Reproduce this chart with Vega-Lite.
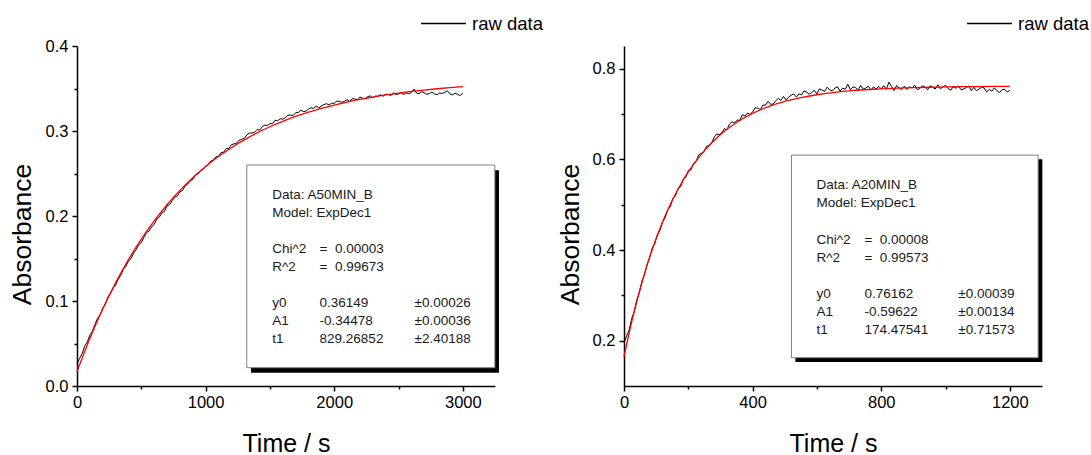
{
  "$schema": "https://vega.github.io/schema/vega-lite/v6.json",
  "background": "white",
  "padding": {"left": 9, "top": 0, "right": 0, "bottom": 0},
  "bounds": "flush",
  "spacing": 129,
  "datasets": {
    "raw50": [
      {"t":0,"a":0.0260},{"t":20,"a":0.0324},{"t":40,"a":0.0381},{"t":60,"a":0.0470},{"t":80,"a":0.0518},{"t":100,"a":0.0598},{"t":120,"a":0.0645},{"t":140,"a":0.0727},{"t":160,"a":0.0797},{"t":180,"a":0.0837},
      {"t":200,"a":0.0917},{"t":220,"a":0.0962},{"t":240,"a":0.1046},{"t":260,"a":0.1086},{"t":280,"a":0.1153},{"t":300,"a":0.1188},{"t":320,"a":0.1256},{"t":340,"a":0.1300},{"t":360,"a":0.1374},{"t":380,"a":0.1407},
      {"t":400,"a":0.1471},{"t":420,"a":0.1498},{"t":440,"a":0.1564},{"t":460,"a":0.1603},{"t":480,"a":0.1663},{"t":500,"a":0.1688},{"t":520,"a":0.1747},{"t":540,"a":0.1804},{"t":560,"a":0.1822},{"t":580,"a":0.1874},
      {"t":600,"a":0.1900},{"t":620,"a":0.1962},{"t":640,"a":0.1987},{"t":660,"a":0.2036},{"t":680,"a":0.2055},{"t":700,"a":0.2119},{"t":720,"a":0.2134},{"t":740,"a":0.2180},{"t":760,"a":0.2223},{"t":780,"a":0.2235},
      {"t":800,"a":0.2286},{"t":820,"a":0.2299},{"t":840,"a":0.2353},{"t":860,"a":0.2374},{"t":880,"a":0.2415},{"t":900,"a":0.2430},{"t":920,"a":0.2482},{"t":940,"a":0.2494},{"t":960,"a":0.2536},{"t":980,"a":0.2545},
      {"t":1000,"a":0.2588},{"t":1020,"a":0.2599},{"t":1040,"a":0.2647},{"t":1060,"a":0.2656},{"t":1080,"a":0.2696},{"t":1100,"a":0.2703},{"t":1120,"a":0.2746},{"t":1140,"a":0.2751},{"t":1160,"a":0.2793},{"t":1180,"a":0.2795},
      {"t":1200,"a":0.2838},{"t":1220,"a":0.2848},{"t":1240,"a":0.2856},{"t":1260,"a":0.2891},{"t":1280,"a":0.2902},{"t":1300,"a":0.2913},{"t":1320,"a":0.2953},{"t":1340,"a":0.2976},{"t":1360,"a":0.2976},{"t":1380,"a":0.2985},
      {"t":1400,"a":0.3016},{"t":1420,"a":0.3011},{"t":1440,"a":0.3051},{"t":1460,"a":0.3069},{"t":1480,"a":0.3065},{"t":1500,"a":0.3086},{"t":1520,"a":0.3086},{"t":1540,"a":0.3127},{"t":1560,"a":0.3121},{"t":1580,"a":0.3144},
      {"t":1600,"a":0.3139},{"t":1620,"a":0.3156},{"t":1640,"a":0.3186},{"t":1660,"a":0.3188},{"t":1680,"a":0.3181},{"t":1700,"a":0.3215},{"t":1720,"a":0.3216},{"t":1740,"a":0.3244},{"t":1760,"a":0.3229},{"t":1780,"a":0.3234},
      {"t":1800,"a":0.3257},{"t":1820,"a":0.3274},{"t":1840,"a":0.3265},{"t":1860,"a":0.3293},{"t":1880,"a":0.3272},{"t":1900,"a":0.3294},{"t":1920,"a":0.3311},{"t":1940,"a":0.3321},{"t":1960,"a":0.3306},{"t":1980,"a":0.3327},
      {"t":2000,"a":0.3325},{"t":2020,"a":0.3352},{"t":2040,"a":0.3348},{"t":2060,"a":0.3337},{"t":2080,"a":0.3350},{"t":2100,"a":0.3369},{"t":2120,"a":0.3348},{"t":2140,"a":0.3382},{"t":2160,"a":0.3376},{"t":2180,"a":0.3370},
      {"t":2200,"a":0.3400},{"t":2220,"a":0.3385},{"t":2240,"a":0.3383},{"t":2260,"a":0.3404},{"t":2280,"a":0.3413},{"t":2300,"a":0.3390},{"t":2320,"a":0.3411},{"t":2340,"a":0.3408},{"t":2360,"a":0.3428},{"t":2380,"a":0.3408},
      {"t":2400,"a":0.3433},{"t":2420,"a":0.3431},{"t":2440,"a":0.3416},{"t":2460,"a":0.3450},{"t":2480,"a":0.3429},{"t":2500,"a":0.3437},{"t":2520,"a":0.3450},{"t":2540,"a":0.3429},{"t":2560,"a":0.3450},{"t":2580,"a":0.3437},
      {"t":2600,"a":0.3452},{"t":2620,"a":0.3494},{"t":2640,"a":0.3447},{"t":2660,"a":0.3438},{"t":2680,"a":0.3462},{"t":2700,"a":0.3449},{"t":2720,"a":0.3431},{"t":2740,"a":0.3440},{"t":2760,"a":0.3458},{"t":2780,"a":0.3436},
      {"t":2800,"a":0.3429},{"t":2820,"a":0.3447},{"t":2840,"a":0.3441},{"t":2860,"a":0.3455},{"t":2880,"a":0.3472},{"t":2900,"a":0.3437},{"t":2920,"a":0.3426},{"t":2940,"a":0.3444},{"t":2960,"a":0.3431},{"t":2980,"a":0.3418},
      {"t":3000,"a":0.3446}
    ],
    "fit50": [
      {"t":0,"a":0.01671},{"t":100,"a":0.05588},{"t":200,"a":0.09060},{"t":300,"a":0.12137},{"t":400,"a":0.14865},{"t":500,"a":0.17282},{"t":600,"a":0.19425},{"t":700,"a":0.21326},{"t":800,"a":0.23009},{"t":900,"a":0.24502},
      {"t":1000,"a":0.25825},{"t":1100,"a":0.26998},{"t":1200,"a":0.28037},{"t":1300,"a":0.28959},{"t":1400,"a":0.29776},{"t":1500,"a":0.30500},{"t":1600,"a":0.31141},{"t":1700,"a":0.31711},{"t":1800,"a":0.32215},{"t":1900,"a":0.32662},
      {"t":2000,"a":0.33058},{"t":2100,"a":0.33409},{"t":2200,"a":0.33720},{"t":2300,"a":0.33996},{"t":2400,"a":0.34241},{"t":2500,"a":0.34457},{"t":2600,"a":0.34650},{"t":2700,"a":0.34820},{"t":2800,"a":0.34971},{"t":2900,"a":0.35105},
      {"t":3000,"a":0.35223}
    ],
    "raw20": [
      {"t":0,"a":0.1954},{"t":8,"a":0.2101},{"t":16,"a":0.2237},{"t":24,"a":0.2490},{"t":32,"a":0.2643},{"t":40,"a":0.2906},{"t":48,"a":0.3068},{"t":56,"a":0.3321},{"t":64,"a":0.3455},{"t":72,"a":0.3690},
      {"t":80,"a":0.3837},{"t":88,"a":0.4046},{"t":96,"a":0.4147},{"t":104,"a":0.4341},{"t":112,"a":0.4439},{"t":120,"a":0.4619},{"t":128,"a":0.4714},{"t":136,"a":0.4892},{"t":144,"a":0.4954},{"t":152,"a":0.5142},
      {"t":160,"a":0.5193},{"t":168,"a":0.5360},{"t":176,"a":0.5392},{"t":184,"a":0.5560},{"t":192,"a":0.5603},{"t":200,"a":0.5752},{"t":208,"a":0.5767},{"t":216,"a":0.5908},{"t":224,"a":0.5945},{"t":232,"a":0.6098},
      {"t":240,"a":0.6131},{"t":248,"a":0.6158},{"t":256,"a":0.6283},{"t":264,"a":0.6309},{"t":272,"a":0.6346},{"t":280,"a":0.6484},{"t":288,"a":0.6558},{"t":296,"a":0.6546},{"t":304,"a":0.6580},{"t":312,"a":0.6677},
      {"t":320,"a":0.6651},{"t":328,"a":0.6775},{"t":336,"a":0.6829},{"t":344,"a":0.6805},{"t":352,"a":0.6868},{"t":360,"a":0.6857},{"t":368,"a":0.6986},{"t":376,"a":0.6954},{"t":384,"a":0.7021},{"t":392,"a":0.6991},
      {"t":400,"a":0.7046},{"t":408,"a":0.7137},{"t":416,"a":0.7131},{"t":424,"a":0.7093},{"t":432,"a":0.7197},{"t":440,"a":0.7194},{"t":448,"a":0.7279},{"t":456,"a":0.7212},{"t":464,"a":0.7220},{"t":472,"a":0.7295},
      {"t":480,"a":0.7345},{"t":488,"a":0.7298},{"t":496,"a":0.7388},{"t":504,"a":0.7309},{"t":512,"a":0.7372},{"t":520,"a":0.7415},{"t":528,"a":0.7442},{"t":536,"a":0.7374},{"t":544,"a":0.7444},{"t":552,"a":0.7423},
      {"t":560,"a":0.7509},{"t":568,"a":0.7484},{"t":576,"a":0.7435},{"t":584,"a":0.7473},{"t":592,"a":0.7524},{"t":600,"a":0.7445},{"t":608,"a":0.7556},{"t":616,"a":0.7526},{"t":624,"a":0.7497},{"t":632,"a":0.7593},
      {"t":640,"a":0.7533},{"t":648,"a":0.7506},{"t":656,"a":0.7572},{"t":664,"a":0.7600},{"t":672,"a":0.7507},{"t":680,"a":0.7572},{"t":688,"a":0.7543},{"t":696,"a":0.7656},{"t":704,"a":0.7532},{"t":712,"a":0.7598},
      {"t":720,"a":0.7584},{"t":728,"a":0.7525},{"t":736,"a":0.7632},{"t":744,"a":0.7547},{"t":752,"a":0.7572},{"t":760,"a":0.7615},{"t":768,"a":0.7527},{"t":776,"a":0.7598},{"t":784,"a":0.7552},{"t":792,"a":0.7611},
      {"t":800,"a":0.7554},{"t":808,"a":0.7624},{"t":816,"a":0.7546},{"t":824,"a":0.7703},{"t":832,"a":0.7611},{"t":840,"a":0.7515},{"t":848,"a":0.7629},{"t":856,"a":0.7568},{"t":864,"a":0.7542},{"t":872,"a":0.7615},
      {"t":880,"a":0.7539},{"t":888,"a":0.7598},{"t":896,"a":0.7574},{"t":904,"a":0.7636},{"t":912,"a":0.7538},{"t":920,"a":0.7561},{"t":928,"a":0.7622},{"t":936,"a":0.7599},{"t":944,"a":0.7533},{"t":952,"a":0.7623},
      {"t":960,"a":0.7588},{"t":968,"a":0.7551},{"t":976,"a":0.7644},{"t":984,"a":0.7556},{"t":992,"a":0.7599},{"t":1000,"a":0.7629},{"t":1008,"a":0.7559},{"t":1016,"a":0.7525},{"t":1024,"a":0.7600},{"t":1032,"a":0.7569},
      {"t":1040,"a":0.7616},{"t":1048,"a":0.7536},{"t":1056,"a":0.7551},{"t":1064,"a":0.7579},{"t":1072,"a":0.7619},{"t":1080,"a":0.7514},{"t":1088,"a":0.7589},{"t":1096,"a":0.7515},{"t":1104,"a":0.7548},{"t":1112,"a":0.7594},
      {"t":1120,"a":0.7574},{"t":1128,"a":0.7486},{"t":1136,"a":0.7541},{"t":1144,"a":0.7505},{"t":1152,"a":0.7577},{"t":1160,"a":0.7514},{"t":1168,"a":0.7473},{"t":1176,"a":0.7537},{"t":1184,"a":0.7544},{"t":1192,"a":0.7485},
      {"t":1200,"a":0.7521}
    ],
    "fit20": [
      {"t":0,"a":0.16540},{"t":25,"a":0.24500},{"t":50,"a":0.31396},{"t":75,"a":0.37372},{"t":100,"a":0.42551},{"t":125,"a":0.47037},{"t":150,"a":0.50925},{"t":175,"a":0.54294},{"t":200,"a":0.57213},{"t":250,"a":0.61934},
      {"t":300,"a":0.65480},{"t":350,"a":0.68142},{"t":400,"a":0.70141},{"t":450,"a":0.71641},{"t":500,"a":0.72768},{"t":550,"a":0.73613},{"t":600,"a":0.74249},{"t":650,"a":0.74725},{"t":700,"a":0.75083},{"t":750,"a":0.75352},
      {"t":800,"a":0.75554},{"t":850,"a":0.75705},{"t":900,"a":0.75819},{"t":950,"a":0.75905},{"t":1000,"a":0.75969},{"t":1050,"a":0.76017},{"t":1100,"a":0.76053},{"t":1150,"a":0.76080},{"t":1200,"a":0.76101}
    ]
  },
  "resolve": {"scale": {"color": "independent"}, "legend": {"color": "independent"}},
  "hconcat": [
    {
      "width": 418,
      "height": 340,
      "resolve": {"axis": {"x": "independent", "y": "independent"}},
      "layer": [
        {
          "data": {"name": "raw50"},
          "mark": {"type": "line", "color": "black", "strokeWidth": 1},
          "encoding": {
            "x": {"field": "t", "type": "quantitative", "title": "Time / s",
              "scale": {"domain": [0, 3250], "nice": false, "zero": false},
              "axis": {"values": [0, 1000, 2000, 3000], "format": "d", "orient": "bottom", "tickSize": 5,
                "labelPadding": 3, "titleY": 65, "titleBaseline": "alphabetic"}},
            "y": {"field": "a", "type": "quantitative", "title": "Absorbance",
              "scale": {"domain": [0, 0.4], "nice": false, "zero": false},
              "axis": {"values": [0, 0.1, 0.2, 0.3, 0.4], "format": ".1f", "orient": "left", "tickSize": 5,
                "labelPadding": 4, "titleFontSize": 26.5, "titleX": -47, "titleY": 188, "titleBaseline": "alphabetic", "titleAngle": 270}},
            "color": {"datum": "raw data", "type": "nominal", "scale": {"range": ["black"]},
              "legend": {"title": null, "orient": "none", "legendX": 343, "legendY": -46, "padding": 0,
                "symbolType": "stroke", "symbolSize": 2025, "symbolStrokeWidth": 1.5, "labelOffset": 5,
                "labelFontSize": 18.5, "labelFont": "Liberation Sans", "labelColor": "black"}}
          }
        },
        {
          "data": {"name": "fit50"},
          "mark": {"type": "line", "color": "#ff0000", "strokeWidth": 1.3, "interpolate": "monotone"},
          "encoding": {
            "x": {"field": "t", "type": "quantitative", "scale": {"domain": [0, 3250], "nice": false, "zero": false},
              "axis": {"values": [500, 1500, 2500], "orient": "bottom", "labels": false, "domain": false, "tickSize": 3, "title": null}},
            "y": {"field": "a", "type": "quantitative", "scale": {"domain": [0, 0.4], "nice": false, "zero": false},
              "axis": {"values": [0.05, 0.15, 0.25, 0.35], "orient": "left", "labels": false, "domain": false, "tickSize": 3, "title": null}}
          }
        },
        {
          "data": {"values": [{}]},
          "mark": {"type": "rect", "fill": "black"},
          "encoding": {
            "x": {"datum": 1353, "type": "quantitative", "axis": null}, "x2": {"datum": 3281},
            "y": {"datum": 0.0156, "type": "quantitative", "axis": null}, "y2": {"datum": 0.2538}
          }
        },
        {
          "data": {"values": [{}]},
          "mark": {"type": "rect", "fill": "white", "stroke": "#7f7f7f", "strokeWidth": 1},
          "encoding": {
            "x": {"datum": 1320, "type": "quantitative", "axis": null}, "x2": {"datum": 3249},
            "y": {"datum": 0.0215, "type": "quantitative", "axis": null}, "y2": {"datum": 0.26}
          }
        },
        {
          "data": {"values": [{}]},
          "mark": {"type": "text", "align": "left", "baseline": "alphabetic", "font": "Liberation Sans", "fontSize": 13.5, "lineHeight": 18, "color": "#1a1a1a"},
          "encoding": {"x": {"datum": 1518, "type": "quantitative", "axis": null}, "y": {"datum": 0.2196, "type": "quantitative", "axis": null}, "text": {"value": ["Data: A50MIN_B", "Model: ExpDec1"]}}
        },
        {
          "data": {"values": [{}]},
          "mark": {"type": "text", "align": "left", "baseline": "alphabetic", "font": "Liberation Sans", "fontSize": 13.5, "lineHeight": 18, "color": "#1a1a1a"},
          "encoding": {"x": {"datum": 1518, "type": "quantitative", "axis": null}, "y": {"datum": 0.1565, "type": "quantitative", "axis": null}, "text": {"value": ["Chi^2", "R^2"]}}
        },
        {
          "data": {"values": [{}]},
          "mark": {"type": "text", "align": "left", "baseline": "alphabetic", "font": "Liberation Sans", "fontSize": 13.5, "lineHeight": 18, "color": "#1a1a1a"},
          "encoding": {"x": {"datum": 1886, "type": "quantitative", "axis": null}, "y": {"datum": 0.1565, "type": "quantitative", "axis": null}, "text": {"value": ["=\u00a0 0.00003", "=\u00a0 0.99673"]}}
        },
        {
          "data": {"values": [{}]},
          "mark": {"type": "text", "align": "left", "baseline": "alphabetic", "font": "Liberation Sans", "fontSize": 13.5, "lineHeight": 18, "color": "#1a1a1a"},
          "encoding": {"x": {"datum": 1518, "type": "quantitative", "axis": null}, "y": {"datum": 0.0929, "type": "quantitative", "axis": null}, "text": {"value": ["y0", "A1", "t1"]}}
        },
        {
          "data": {"values": [{}]},
          "mark": {"type": "text", "align": "left", "baseline": "alphabetic", "font": "Liberation Sans", "fontSize": 13.5, "lineHeight": 18, "color": "#1a1a1a"},
          "encoding": {"x": {"datum": 1886, "type": "quantitative", "axis": null}, "y": {"datum": 0.0929, "type": "quantitative", "axis": null}, "text": {"value": ["0.36149", "-0.34478", "829.26852"]}}
        },
        {
          "data": {"values": [{}]},
          "mark": {"type": "text", "align": "left", "baseline": "alphabetic", "font": "Liberation Sans", "fontSize": 13.5, "lineHeight": 18, "color": "#1a1a1a"},
          "encoding": {"x": {"datum": 2625, "type": "quantitative", "axis": null}, "y": {"datum": 0.0929, "type": "quantitative", "axis": null}, "text": {"value": ["±0.00026", "±0.00036", "±2.40188"]}}
        }
      ]
    },
    {
      "width": 418,
      "height": 340,
      "resolve": {"axis": {"x": "independent", "y": "independent"}},
      "layer": [
        {
          "data": {"name": "raw20"},
          "mark": {"type": "line", "color": "black", "strokeWidth": 1},
          "encoding": {
            "x": {"field": "t", "type": "quantitative", "title": "Time / s",
              "scale": {"domain": [0, 1300], "nice": false, "zero": false},
              "axis": {"values": [0, 400, 800, 1200], "format": "d", "orient": "bottom", "tickSize": 5,
                "labelPadding": 3, "titleY": 65, "titleBaseline": "alphabetic"}},
            "y": {"field": "a", "type": "quantitative", "title": "Absorbance",
              "scale": {"domain": [0.1, 0.85], "nice": false, "zero": false},
              "axis": {"values": [0.2, 0.4, 0.6, 0.8], "format": ".1f", "orient": "left", "tickSize": 5,
                "labelPadding": 4, "titleFontSize": 26.5, "titleX": -46, "titleY": 188, "titleBaseline": "alphabetic", "titleAngle": 270}},
            "color": {"datum": "raw data", "type": "nominal", "scale": {"range": ["black"]},
              "legend": {"title": null, "orient": "none", "legendX": 342, "legendY": -46, "padding": 0,
                "symbolType": "stroke", "symbolSize": 2025, "symbolStrokeWidth": 1.5, "labelOffset": 5,
                "labelFontSize": 18.5, "labelFont": "Liberation Sans", "labelColor": "black"}}
          }
        },
        {
          "data": {"name": "fit20"},
          "mark": {"type": "line", "color": "#ff0000", "strokeWidth": 1.3, "interpolate": "monotone"},
          "encoding": {
            "x": {"field": "t", "type": "quantitative", "scale": {"domain": [0, 1300], "nice": false, "zero": false},
              "axis": {"values": [200, 600, 1000], "orient": "bottom", "labels": false, "domain": false, "tickSize": 3, "title": null}},
            "y": {"field": "a", "type": "quantitative", "scale": {"domain": [0.1, 0.85], "nice": false, "zero": false},
              "axis": {"values": [0.3, 0.5, 0.7], "orient": "left", "labels": false, "domain": false, "tickSize": 3, "title": null}}
          }
        },
        {
          "data": {"values": [{}]},
          "mark": {"type": "rect", "fill": "black"},
          "encoding": {
            "x": {"datum": 533, "type": "quantitative", "axis": null}, "x2": {"datum": 1301},
            "y": {"datum": 0.1527, "type": "quantitative", "axis": null}, "y2": {"datum": 0.6}
          }
        },
        {
          "data": {"values": [{}]},
          "mark": {"type": "rect", "fill": "white", "stroke": "#7f7f7f", "strokeWidth": 1},
          "encoding": {
            "x": {"datum": 520.7, "type": "quantitative", "axis": null}, "x2": {"datum": 1288},
            "y": {"datum": 0.1624, "type": "quantitative", "axis": null}, "y2": {"datum": 0.6093}
          }
        },
        {
          "data": {"values": [{}]},
          "mark": {"type": "text", "align": "left", "baseline": "alphabetic", "font": "Liberation Sans", "fontSize": 13.5, "lineHeight": 18, "color": "#1a1a1a"},
          "encoding": {"x": {"datum": 598.5, "type": "quantitative", "axis": null}, "y": {"datum": 0.5337, "type": "quantitative", "axis": null}, "text": {"value": ["Data: A20MIN_B", "Model: ExpDec1"]}}
        },
        {
          "data": {"values": [{}]},
          "mark": {"type": "text", "align": "left", "baseline": "alphabetic", "font": "Liberation Sans", "fontSize": 13.5, "lineHeight": 18, "color": "#1a1a1a"},
          "encoding": {"x": {"datum": 598.5, "type": "quantitative", "axis": null}, "y": {"datum": 0.4139, "type": "quantitative", "axis": null}, "text": {"value": ["Chi^2", "R^2"]}}
        },
        {
          "data": {"values": [{}]},
          "mark": {"type": "text", "align": "left", "baseline": "alphabetic", "font": "Liberation Sans", "fontSize": 13.5, "lineHeight": 18, "color": "#1a1a1a"},
          "encoding": {"x": {"datum": 747.7, "type": "quantitative", "axis": null}, "y": {"datum": 0.4139, "type": "quantitative", "axis": null}, "text": {"value": ["=\u00a0 0.00008", "=\u00a0 0.99573"]}}
        },
        {
          "data": {"values": [{}]},
          "mark": {"type": "text", "align": "left", "baseline": "alphabetic", "font": "Liberation Sans", "fontSize": 13.5, "lineHeight": 18, "color": "#1a1a1a"},
          "encoding": {"x": {"datum": 598.5, "type": "quantitative", "axis": null}, "y": {"datum": 0.2947, "type": "quantitative", "axis": null}, "text": {"value": ["y0", "A1", "t1"]}}
        },
        {
          "data": {"values": [{}]},
          "mark": {"type": "text", "align": "left", "baseline": "alphabetic", "font": "Liberation Sans", "fontSize": 13.5, "lineHeight": 18, "color": "#1a1a1a"},
          "encoding": {"x": {"datum": 747.7, "type": "quantitative", "axis": null}, "y": {"datum": 0.2947, "type": "quantitative", "axis": null}, "text": {"value": ["0.76162", "-0.59622", "174.47541"]}}
        },
        {
          "data": {"values": [{}]},
          "mark": {"type": "text", "align": "left", "baseline": "alphabetic", "font": "Liberation Sans", "fontSize": 13.5, "lineHeight": 18, "color": "#1a1a1a"},
          "encoding": {"x": {"datum": 1039.6, "type": "quantitative", "axis": null}, "y": {"datum": 0.2947, "type": "quantitative", "axis": null}, "text": {"value": ["±0.00039", "±0.00134", "±0.71573"]}}
        }
      ]
    }
  ],
  "config": {
    "view": {"stroke": null},
    "axis": {
      "grid": false, "domainColor": "black", "domainWidth": 1.5, "tickColor": "black", "tickWidth": 1.5,
      "labelFont": "Liberation Sans", "labelFontSize": 16.5, "labelColor": "black", "labelFlush": false, "labelOverlap": false,
      "titleFont": "Liberation Sans", "titleFontSize": 25, "titleFontWeight": "normal", "titleColor": "black"
    }
  }
}
